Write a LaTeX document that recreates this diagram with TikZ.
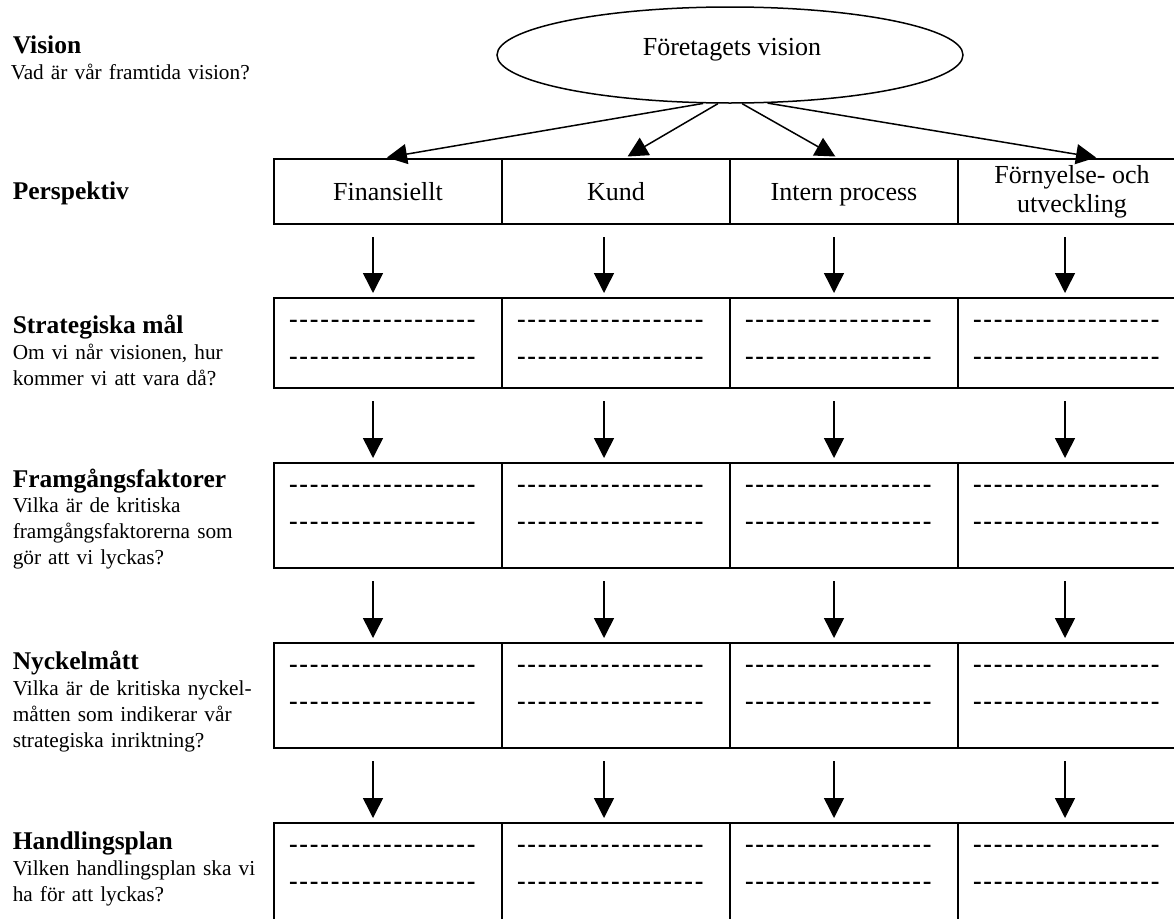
\documentclass[tikz,border=0pt]{standalone}
\usepackage{fontspec}
\setmainfont{Liberation Serif}
\usetikzlibrary{shapes.geometric, arrows.meta}
\newcommand{\dashrow}{\foreach \k in {1,...,18}{-\kern1.8pt}}
\tikzset{
	pcell/.style={draw, line width=2pt, anchor=north west, inner sep=0pt, minimum width=228pt, minimum height=65pt, align=center, font=\fontsize{26}{29}\selectfont},
	cell/.style={draw, line width=2pt, anchor=north west, inner xsep=15pt, inner ysep=0pt, text width=198pt, align=left, text height=29.5pt, font=\fontsize{26}{37}\selectfont\bfseries},
	head/.style={anchor=base west, inner sep=0pt, font=\fontsize{25.5}{30}\selectfont\bfseries},
	desc/.style={anchor=base west, inner sep=0pt, text width=270pt, align=left, font=\fontsize{21.3}{26}\selectfont},
	down/.style={->, shorten <=12pt, shorten >=4pt}
}
\begin{document}
\begin{tikzpicture}[x=1pt, y=-1pt, line width=1.5pt, >={Triangle[length=20pt, width=20pt]}]
	\useasboundingbox (0, 0) rectangle (1174, 918);
	\node[draw, ellipse, inner sep=0pt, minimum width=466pt, minimum height=96pt] (vis) at (730, 55) {};
	\node[anchor=base, font=\fontsize{26}{30}\selectfont] (vistxt) at (732, 55) {Företagets vision};
	\node[head] (hvis) at (12, 53) {Vision};
	\node[desc] (dvis) at (10, 79) {Vad är vår framtida vision?};
	\node[head] (hper) at (12, 199) {Perspektiv};
	\node[head] (hmal) at (12, 333) {Strategiska mål};
	\node[desc] (dmal) at (12, 359) {Om vi når visionen, hur\\kommer vi att vara då?};
	\node[head] (hfak) at (12, 487) {Framgångsfaktorer};
	\node[desc] (dfak) at (12, 512) {Vilka är de kritiska\\framgångsfaktorerna som\\gör att vi lyckas?};
	\node[head] (hnyc) at (12, 669) {Nyckelmått};
	\node[desc] (dnyc) at (12, 695) {Vilka är de kritiska nyckel-\\måtten som indikerar vår\\strategiska inriktning?};
	\node[head] (hhan) at (12, 849) {Handlingsplan};
	\node[desc] (dhan) at (12, 875) {Vilken handlingsplan ska vi\\ha för att lyckas?};

	\node[pcell] (p1) at (273, 158) {Finansiellt};
	\node[pcell] (p2) at (501, 158) {Kund};
	\node[pcell, text depth=0pt] (p3) at (729, 158) {Intern process};
	\node[pcell] (p4) at (957, 158) {Förnyelse- och\\utveckling};

	\node[cell, text depth=60.5pt] (s1) at (273, 297) {\dashrow\\\dashrow};
	\node[cell, text depth=60.5pt] (s2) at (501, 297) {\dashrow\\\dashrow};
	\node[cell, text depth=60.5pt] (s3) at (729, 297) {\dashrow\\\dashrow};
	\node[cell, text depth=60.5pt] (s4) at (957, 297) {\dashrow\\\dashrow};

	\node[cell, text depth=75.5pt] (f1) at (273, 462) {\dashrow\\\dashrow};
	\node[cell, text depth=75.5pt] (f2) at (501, 462) {\dashrow\\\dashrow};
	\node[cell, text depth=75.5pt] (f3) at (729, 462) {\dashrow\\\dashrow};
	\node[cell, text depth=75.5pt] (f4) at (957, 462) {\dashrow\\\dashrow};

	\node[cell, text depth=75.5pt] (n1) at (273, 642) {\dashrow\\\dashrow};
	\node[cell, text depth=75.5pt] (n2) at (501, 642) {\dashrow\\\dashrow};
	\node[cell, text depth=75.5pt] (n3) at (729, 642) {\dashrow\\\dashrow};
	\node[cell, text depth=75.5pt] (n4) at (957, 642) {\dashrow\\\dashrow};

	\node[cell, text depth=70.5pt] (h1) at (273, 822) {\dashrow\\\dashrow};
	\node[cell, text depth=70.5pt] (h2) at (501, 822) {\dashrow\\\dashrow};
	\node[cell, text depth=70.5pt] (h3) at (729, 822) {\dashrow\\\dashrow};
	\node[cell, text depth=70.5pt] (h4) at (957, 822) {\dashrow\\\dashrow};

	\draw[->, shorten >=3pt] (vis.241) -- ([xshift=-4pt]p1.north);
	\draw[->, shorten >=3pt] (vis.256) -- ([xshift=9pt]p2.north);
	\draw[->, shorten >=3pt] (vis.284) -- ([xshift=-6pt]p3.north);
	\draw[->, shorten >=3pt] (vis.308) -- ([xshift=27pt]p4.north);

	\draw[down] ([xshift=-15pt]p1.south) -- ([xshift=-15pt]s1.north);
	\draw[down] ([xshift=-12pt]p2.south) -- ([xshift=-12pt]s2.north);
	\draw[down] ([xshift=-10pt]p3.south) -- ([xshift=-10pt]s3.north);
	\draw[down] ([xshift=-7pt]p4.south) -- ([xshift=-7pt]s4.north);
	\draw[down] ([xshift=-15pt]s1.south) -- ([xshift=-15pt]f1.north);
	\draw[down] ([xshift=-12pt]s2.south) -- ([xshift=-12pt]f2.north);
	\draw[down] ([xshift=-10pt]s3.south) -- ([xshift=-10pt]f3.north);
	\draw[down] ([xshift=-7pt]s4.south) -- ([xshift=-7pt]f4.north);
	\draw[down] ([xshift=-15pt]f1.south) -- ([xshift=-15pt]n1.north);
	\draw[down] ([xshift=-12pt]f2.south) -- ([xshift=-12pt]n2.north);
	\draw[down] ([xshift=-10pt]f3.south) -- ([xshift=-10pt]n3.north);
	\draw[down] ([xshift=-7pt]f4.south) -- ([xshift=-7pt]n4.north);
	\draw[down] ([xshift=-15pt]n1.south) -- ([xshift=-15pt]h1.north);
	\draw[down] ([xshift=-12pt]n2.south) -- ([xshift=-12pt]h2.north);
	\draw[down] ([xshift=-10pt]n3.south) -- ([xshift=-10pt]h3.north);
	\draw[down] ([xshift=-7pt]n4.south) -- ([xshift=-7pt]h4.north);
\end{tikzpicture}
\end{document}
